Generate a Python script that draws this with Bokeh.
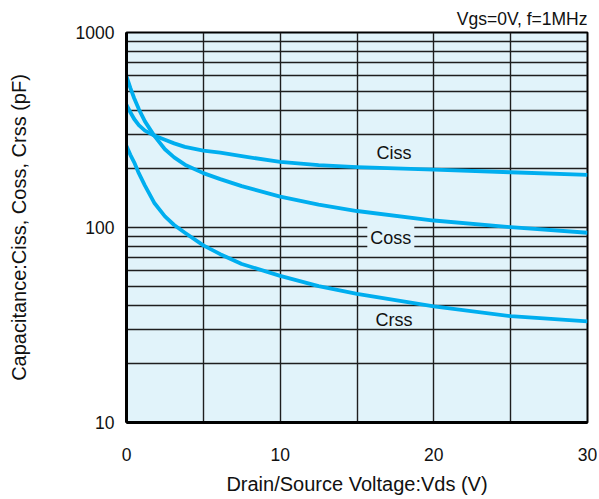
from bokeh.plotting import figure
from bokeh.models import Range1d, FixedTicker, Label
from bokeh.embed import file_html
from bokeh.resources import INLINE

# ---- data ----
vds = [0, 0.25, 0.5, 0.8, 1.2, 1.8, 2.5, 3.1, 3.8, 5, 6.1, 7.5, 10, 12.5, 15, 20, 25, 30]
ciss = [425, 390, 360, 335, 314, 296, 282, 270, 259, 248, 242, 232, 217, 209, 204, 198, 192, 186]
coss = [595, 520, 460, 405, 350, 296, 252, 229, 210, 190, 177, 163, 144, 131, 121.5, 108.6, 100.4, 94]
crss = [262, 236, 216, 190, 164, 134, 114, 103, 94, 81, 73, 65, 56.5, 50, 45.7, 39.4, 35.1, 33]

x_major = [0, 10, 20, 30]
x_minor = [5, 15, 25]
y_major = [10, 100, 1000]
y_minor = [20, 30, 40, 50, 60, 70, 80, 90, 200, 300, 400, 500, 600, 700, 800, 900]
y_tick_labels = ["10", "100", "1000"]

FONT = "Liberation Sans"
CURVE = "#00aeef"
BG = "#e1f3fa"
GRID = "#1e1e1e"

p = figure(width=597, height=497, output_backend="svg", toolbar_location=None,
           y_axis_type="log", x_range=Range1d(0, 30), y_range=Range1d(10, 1000),
           min_border_left=126, min_border_right=10, min_border_top=32, min_border_bottom=75)

p.background_fill_color = BG
p.border_fill_color = "white"
p.outline_line_color = "black"
p.outline_line_width = 2

# condition note
p.title.text = "Vgs=0V, f=1MHz"
p.title.align = "right"
p.title.text_font = FONT
p.title.text_font_size = "17.5px"
p.title.text_font_style = "normal"
p.title.text_color = "#111111"
p.title.standoff = 7

# axes
p.xaxis.ticker = FixedTicker(ticks=x_major, minor_ticks=x_minor)
p.yaxis.ticker = FixedTicker(ticks=y_major, minor_ticks=y_minor)
p.yaxis.major_label_overrides = {v: t for v, t in zip(y_major, y_tick_labels)}

for ax in (p.xaxis[0], p.yaxis[0]):
    ax.axis_line_color = "black"
    ax.axis_line_width = 3
    ax.major_tick_line_color = None
    ax.minor_tick_line_color = None
    ax.major_tick_out = 0
    ax.major_tick_in = 0
    ax.minor_tick_out = 0
    ax.minor_tick_in = 0
    ax.major_label_text_font = FONT
    ax.major_label_text_font_size = "17.5px"
    ax.major_label_text_color = "#111111"
    ax.axis_label_text_font = FONT
    ax.axis_label_text_font_size = "20px"
    ax.axis_label_text_font_style = "normal"
    ax.axis_label_text_color = "#111111"

p.xaxis.axis_label = "Drain/Source Voltage:Vds (V)"
p.yaxis.axis_label = "Capacitance:Ciss, Coss, Crss (pF)"
p.xaxis.major_label_standoff = 25
p.yaxis.major_label_standoff = 12
p.xaxis.axis_label_standoff = 9
p.yaxis.axis_label_standoff = 43

# grid
for g in (p.xgrid[0], p.ygrid[0]):
    g.grid_line_color = GRID
    g.grid_line_width = 1.4
    g.grid_line_alpha = 1
    g.minor_grid_line_color = GRID
    g.minor_grid_line_width = 1.4
    g.minor_grid_line_alpha = 1

# curves
for series in (ciss, coss, crss):
    p.line(vds, series, line_color=CURVE, line_width=3.8, line_join="round")

# curve labels
for txt, lx, ly, bg in (("Ciss", 17.4, 242, None), ("Coss", 17.2, 88, BG), ("Crss", 17.4, 33.7, None)):
    lab = Label(x=lx, y=ly, text=txt, text_align="center", text_baseline="middle",
                text_font=FONT, text_font_size="18px", text_color="#111111")
    if bg:
        lab.background_fill_color = bg
        lab.padding = 3
    p.add_layout(lab)

open("out.html", "w").write(file_html(p, INLINE))
